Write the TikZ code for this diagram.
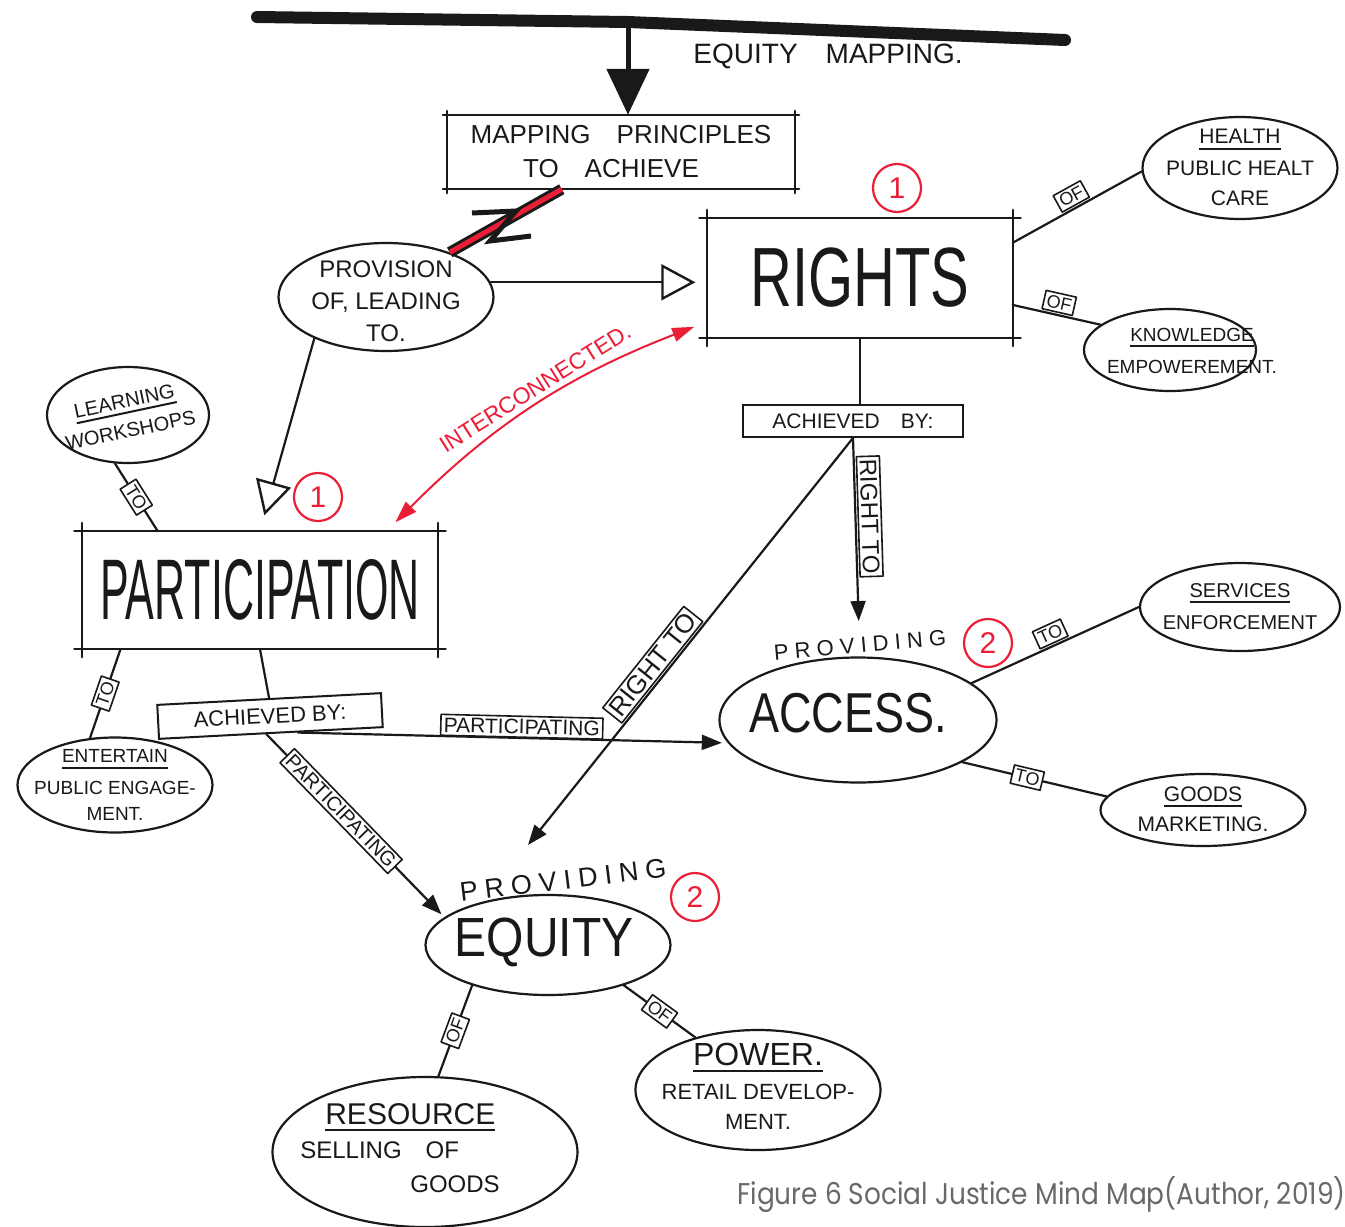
\documentclass[tikz,border=0pt]{standalone}
\usepackage{fontspec}
\setmainfont{Liberation Sans}
\newfontfamily\capfont{Poppins}
\usetikzlibrary{shapes.geometric,arrows.meta,calc}
\definecolor{pen}{RGB}{25,25,25}
\definecolor{redpen}{RGB}{235,30,55}
\definecolor{capgray}{RGB}{105,105,105}
\newcommand\hdline[1]{\setbox0=\hbox{#1}\leavevmode\rlap{\raisebox{-6pt}{\rule{\wd0}{2pt}}}\box0}
% centred text block of zero size: #1 x shift, #2 raise, #3 column type, #4 text
\newcommand\ctext[4]{\makebox[0pt]{\hspace*{#1}\hspace*{#1}\smash{\raisebox{#2}{\begin{tabular}{@{}#3@{}}#4\end{tabular}}}}}
\newcommand\skbox[2]{%
 \draw[hand] ($(#1.north west)+(-#2,0)$) -- ($(#1.north east)+(#2,0)$);
 \draw[hand] ($(#1.south west)+(-#2,0)$) -- ($(#1.south east)+(#2,0)$);
 \draw[hand] ($(#1.north west)+(0,-#2)$) -- ($(#1.south west)+(0,#2)$);
 \draw[hand] ($(#1.north east)+(0,-#2)$) -- ($(#1.south east)+(0,#2)$);}
\begin{document}
\begin{tikzpicture}[x=1pt,y=-1pt,
 hand/.style={line width=2.2pt, draw=pen, line cap=round, line join=round},
 ell/.style={ellipse, draw=pen, line width=2.2pt, inner sep=0pt, align=center, text=pen},
 rbox/.style={rectangle, inner sep=0pt, align=center, text=pen},
 tagbox/.style={rectangle, draw=pen, line width=1.6pt, fill=white, inner sep=3pt, text=pen, font=\fontsize{18}{18}\selectfont},
 rnum/.style={circle, draw=redpen, line width=2.2pt, text=redpen, minimum size=48pt, inner sep=0pt, font=\fontsize{30}{30}\selectfont},
 bigtip/.style={-{Triangle[open,length=34pt,width=36pt,line width=2.4pt]}},
 smtip/.style={-{Triangle[length=20pt,width=15pt]}},
]
\useasboundingbox (0,0) rectangle (1345,1227);
\fill[white] (0,0) rectangle (1345,1227);

% top bar
\coordinate (barL) at (257,17);
\coordinate (barM) at (628,22);
\coordinate (barR) at (1065,40);
\draw[pen, line width=12pt, line cap=round, line join=round] (barL) -- (barM) -- (barR);
\node[font=\fontsize{28}{28}\selectfont, text=pen] (eqm) at (828,56) {EQUITY\quad MAPPING.};

% mapping principles
\node[rbox, minimum width=348pt, minimum height=74pt, font=\fontsize{26}{34}\selectfont] (mp) at (621,152) {MAPPING\quad PRINCIPLES\\TO\quad ACHIEVE\hspace*{20pt}};
\skbox{mp}{4}
\draw[pen, line width=5pt, -{Triangle[length=46pt,width=42pt]}] (barM) -- (barM |- mp.north);

% provision
\node[ell, minimum width=215pt, minimum height=108pt, font=\fontsize{24}{32}\selectfont] (prov) at (386,297) {\ctext{0pt}{-12pt}{c}{PROVISION\\OF, LEADING\\TO.}};
\draw[pen, line width=11pt] ($(mp.south west)!0.33!(mp.south east)$) -- (prov.35);
\draw[redpen, line width=5pt] ($(mp.south west)!0.33!(mp.south east)$) -- (prov.35);
\draw[pen, line width=5pt, line join=miter] (472,213) -- (516,211) -- (490,241) -- (531,236);

% rights
\node[rbox, minimum width=305pt, minimum height=120pt, font=\fontsize{58}{58}\selectfont] (rights) at (860,278) {\scalebox{1}[1.45]{RIGHTS}};
\skbox{rights}{8}
\node[rnum] (r1a) at (897,188) {1};
\draw[hand, bigtip, shorten >=12pt] (prov.8) -- (prov.8 -| rights.west);

% health / knowledge
\node[ell, minimum width=195pt, minimum height=102pt, font=\fontsize{21}{30}\selectfont] (health) at (1240,168) {\ctext{0pt}{-6pt}{c}{\hdline{HEALTH}\\[2pt]PUBLIC HEALT\\CARE}};
\node[ell, minimum width=172pt, minimum height=82pt, font=\fontsize{19}{28}\selectfont] (know) at (1170,350) {\ctext{22pt}{-6pt}{c}{\hdline{KNOWLEDGE}\\[4pt]EMPOWEREMENT.}};
\draw[hand] (rights.13) -- node[tagbox, sloped, above=2pt] {OF} (health.182);
\draw[hand] (rights.-10) -- node[tagbox, sloped, above=2pt] {OF} (know.160);

% achieved by (rights)
\node[rbox, draw=pen, line width=2pt, minimum width=220pt, minimum height=32pt, font=\fontsize{21}{21}\selectfont] (achR) at (853,421) {ACHIEVED\quad BY:};
\draw[hand] (rights.south) -- (rights.south |- achR.north);

% access
\node[font=\fontsize{22}{22}\selectfont\addfontfeatures{LetterSpace=28}, text=pen, rotate=5, inner sep=2pt] (provA) at (860,645) {PROVIDING};
\node[rnum] (r2a) at (988,643) {2};
\node[ell, minimum width=277pt, minimum height=125pt, font=\fontsize{45}{45}\selectfont] (access) at (858,720) {\ctext{-10pt}{-6pt}{c}{\scalebox{1}[1.25]{ACCESS.}}};
\draw[hand, smtip, shorten >=14pt] (achR.south) -- node[tagbox, sloped, above=2pt, pos=0.4, font=\fontsize{24}{24}\selectfont] {RIGHT TO} (provA.north);

\node[ell, minimum width=200pt, minimum height=88pt, font=\fontsize{20}{28}\selectfont] (serv) at (1240,607) {\ctext{0pt}{-6pt}{c}{\hdline{SERVICES}\\[4pt]ENFORCEMENT}};
\node[ell, minimum width=205pt, minimum height=72pt, font=\fontsize{21}{28}\selectfont] (goods) at (1203,810) {\ctext{0pt}{-6pt}{c}{\hdline{GOODS}\\[2pt]MARKETING.}};
\draw[hand] (access.18) -- node[tagbox, sloped, above=2pt] {TO} (serv.west);
\draw[hand] (access.-22) -- node[tagbox, sloped, pos=0.45] {TO} (goods.172);

% participation
\node[rbox, minimum width=355pt, minimum height=118pt, font=\fontsize{43}{43}\selectfont] (part) at (260,590) {\scalebox{1}[2.0]{PARTICIPATION}};
\skbox{part}{8}
\node[rnum] (r1b) at (318,497) {1};
\draw[hand, bigtip, shorten >=16pt] (prov.210) -- (part.north);

\draw[redpen, line width=2pt, {Triangle[length=22pt,width=14pt]}-{Triangle[length=22pt,width=14pt]}, shorten <=14pt, shorten >=12pt]
  (rights.196) to[bend right=12] node[pos=0.47, sloped, above=3pt, text=redpen, font=\fontsize{23}{23}\selectfont] (ic) {INTERCONNECTED.} (part.25);

\node[ell, minimum width=162pt, minimum height=96pt] (learn) at (128,415) {\ctext{0pt}{-6pt}{c}{\rotatebox{12}{\fontsize{20}{20}\selectfont\begin{tabular}{@{}c@{}}\hdline{LEARNING}\\[10pt]WORKSHOPS\end{tabular}}}};
\node[ell, minimum width=195pt, minimum height=95pt, font=\fontsize{19}{26}\selectfont] (ent) at (115,785) {\ctext{0pt}{-6pt}{c}{\hdline{ENTERTAIN}\\[6pt]PUBLIC ENGAGE-\\MENT.}};
\draw[hand] (learn.-105) -- node[tagbox, sloped] {TO} (part.150);
\draw[hand] (part.203) -- node[tagbox, sloped] {TO} (ent.118);

\node[rbox, draw=pen, line width=2pt, minimum width=224pt, minimum height=34pt, rotate=3, font=\fontsize{22}{22}\selectfont] (achL) at (270,716) {ACHIEVED BY:};
\draw[hand] (part.south) -- (achL.north);

% equity
\node[font=\fontsize{27}{27}\selectfont\addfontfeatures{LetterSpace=26}, text=pen, rotate=7, inner sep=2pt] (provE) at (563,880) {PROVIDING};
\node[rnum] (r2b) at (695,897) {2};
\node[ell, minimum width=245pt, minimum height=100pt, font=\fontsize{48}{48}\selectfont] (equity) at (548,945) {\ctext{-4pt}{-6pt}{c}{\scalebox{1}[1.15]{EQUITY}}};
\coordinate (eqTip) at (528,845);
\draw[hand, smtip] (achR.south) -- node[tagbox, sloped, above=2pt, pos=0.58, font=\fontsize{26}{26}\selectfont] {RIGHT TO} (eqTip);
\draw[hand, smtip, shorten >=6pt] ($(achL.south west)!0.62!(achL.south east)$) -- node[tagbox, sloped, above=0pt, pos=0.52, font=\fontsize{21}{21}\selectfont] {PARTICIPATING} (access.190);
\draw[hand, smtip, shorten >=4pt] ($(achL.south west)!0.48!(achL.south east)$) -- node[tagbox, sloped, pos=0.42, font=\fontsize{20}{20}\selectfont] {PARTICIPATING} (equity.165);

\node[ell, minimum width=305pt, minimum height=150pt, font=\fontsize{24}{34}\selectfont] (res) at (425,1152) {\ctext{0pt}{-6pt}{l}{\hspace*{25pt}{\fontsize{30}{30}\selectfont\hdline{RESOURCE}}\\SELLING\quad OF\\\hspace*{110pt}GOODS\hspace*{50pt}}};
\node[ell, minimum width=245pt, minimum height=120pt, font=\fontsize{22}{30}\selectfont] (power) at (758,1090) {\ctext{0pt}{-6pt}{c}{{\fontsize{32}{32}\selectfont\hdline{POWER.}}\\[4pt]RETAIL DEVELOP-\\MENT.}};
\draw[hand] (equity.208) -- node[tagbox, sloped] {OF} (res.80);
\draw[hand] (equity.-28) -- node[tagbox, sloped] {OF} (power.140);

% caption
\node[anchor=east, text=capgray, inner sep=0pt] (cap) at (1346,1195) {\scalebox{0.88}[1]{\capfont\fontsize{30}{30}\selectfont Figure 6 Social Justice Mind Map(Author, 2019)}};
\end{tikzpicture}
\end{document}
